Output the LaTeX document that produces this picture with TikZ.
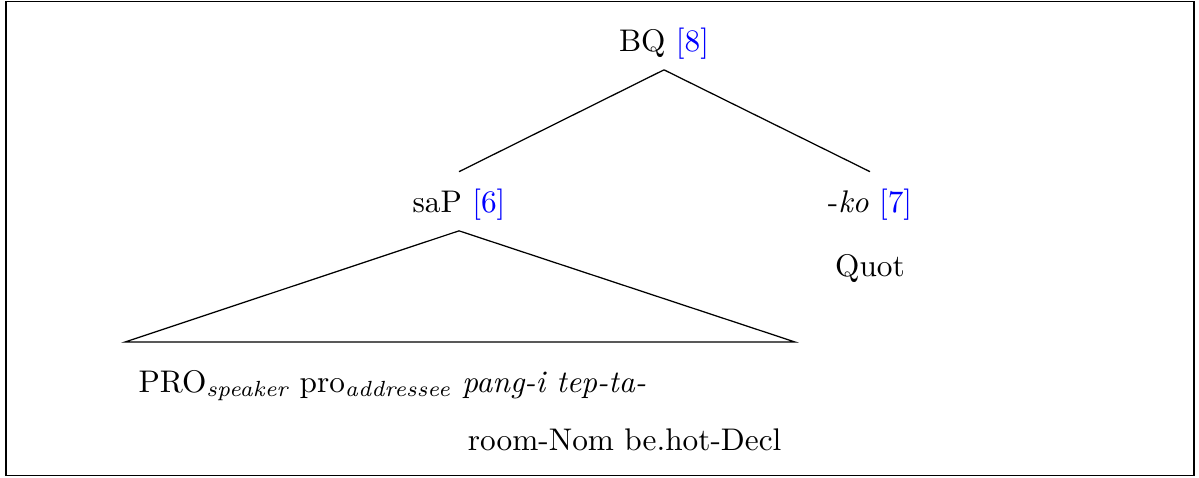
\documentclass[tikz,border=0pt]{standalone}
\usepackage{amsmath}
\usepackage{xcolor}
\usetikzlibrary{positioning}

\newcommand{\exref}[1]{\textcolor{blue}{[#1]}}

\begin{document}
\begin{tikzpicture}[x=0.3195pt,y=-0.3195pt,
    lbl/.style={inner sep=3pt,anchor=base}]
    \useasboundingbox (0,0) rectangle (1199,478);
    \draw (6,1.5) rectangle (1194,475.5);

    \node[lbl] (bq) at (664,52) {BQ \exref{8}};
    \node[lbl] (sap) at (459,213) {saP \exref{6}};
    \node[lbl] (ko) at (870,213) {-\textit{ko} \exref{7}};
    \node[lbl] (quot) at (870,277) {Quot};

    \draw (bq.south) -- ([yshift=2.5pt]sap.north);
    \draw (bq.south) -- ([yshift=2.5pt]ko.north);

    \coordinate (tl) at (125,342);
    \coordinate (tr) at (795,342);
    \draw (tl) -- (sap.south) -- (tr) -- cycle;

    \node[lbl,anchor=base west,inner sep=0pt] (gloss1) at (138,392)
      {PRO$_{\textit{speaker}}$ pro$_{\textit{addressee}}$ \textit{pang-i tep-ta-}};
    \node[lbl,anchor=base east,inner sep=0pt] (gloss2) at (782,450) {room-Nom be.hot-Decl};
  \end{tikzpicture}
\end{document}
